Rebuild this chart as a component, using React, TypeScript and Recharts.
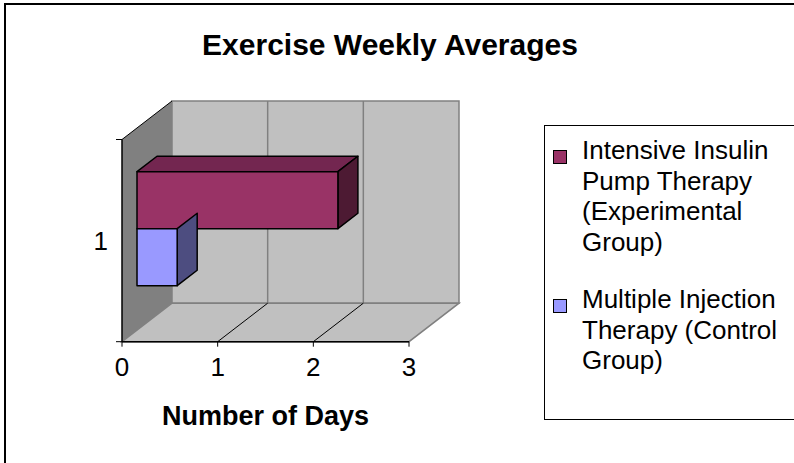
import React from "react";
import { BarChart, Bar, XAxis, YAxis, CartesianGrid, Legend } from "recharts";

// values
const categories = ["1"];
const pumpTherapy = [2.1];
const injectionTherapy = [0.42];
const seriesNames = [
  "Intensive Insulin Pump Therapy (Experimental Group)",
  "Multiple Injection Therapy (Control Group)",
];
const dayTicks = [0, 1, 2, 3];

const data = categories.map((c, i) => ({
  name: c,
  pump: pumpTherapy[i],
  injection: injectionTherapy[i],
}));

const FONT = "'Liberation Sans', Arial, sans-serif";

// 3d depth of the plot box
const DX = 50;
const DY = -38.5;
const BAR_FRONT = 0.3;
const BAR_BACK = 0.7;

const renderWalls = (props: any) => {
  const pts: number[] = props.verticalPoints || [];
  const left = props.x ?? pts[0];
  const width = props.width ?? pts[pts.length - 1] - pts[0];
  const top = props.y ?? props.y1;
  const height = props.height ?? props.y2 - props.y1;
  const bottom = top + height;
  const right = left + width;
  const x1 = props.x1;
  const inner = x1 > left + 1 && x1 < right - 1;
  return (
    <g key={`wall-${props.index}`}>
      {props.index === 0 && (
        <g>
          <rect x={left + DX} y={top + DY} width={width} height={height} fill="#c0c0c0" stroke="#808080" strokeWidth={1.5} />
          <polygon
            points={`${left},${top} ${left + DX},${top + DY} ${left + DX},${bottom + DY} ${left},${bottom}`}
            fill="#808080"
          />
          <polygon
            points={`${left},${bottom} ${left + DX},${bottom + DY} ${right + DX},${bottom + DY} ${right},${bottom}`}
            fill="#c0c0c0"
            stroke="#808080"
            strokeWidth={1.5}
          />
          <line x1={left} y1={top} x2={left + DX} y2={top + DY} stroke="#000" strokeWidth={1} />
          <line x1={left - 6} y1={top} x2={left} y2={top} stroke="#000" />
          <line x1={left - 6} y1={bottom} x2={left} y2={bottom} stroke="#000" />
        </g>
      )}
      {inner && (
        <g>
          <line x1={x1 + DX} y1={top + DY} x2={x1 + DX} y2={bottom + DY} stroke="#808080" strokeWidth={1.5} />
          <line x1={x1} y1={bottom} x2={x1 + DX} y2={bottom + DY} stroke="#000" strokeWidth={1} />
        </g>
      )}
    </g>
  );
};

const Box3D = (props: any) => {
  const { x, y, width, height, face, topFace, sideFace, showTop } = props;
  if (!width || width <= 0) return null;
  const fx = x + DX * BAR_FRONT;
  const fy = y + DY * BAR_FRONT;
  const bx = x + DX * BAR_BACK;
  const by = y + DY * BAR_BACK;
  const ddx = bx - fx;
  const ddy = by - fy;
  return (
    <g stroke="#000" strokeWidth={1.5} strokeLinejoin="round">
      {showTop && (
        <polygon
          points={`${fx},${fy} ${fx + width},${fy} ${bx + width},${by} ${bx},${by}`}
          fill={topFace}
        />
      )}
      <polygon
        points={`${fx + width},${fy} ${fx + width + ddx},${fy + ddy} ${fx + width + ddx},${fy + ddy + height} ${fx + width},${fy + height}`}
        fill={sideFace}
      />
      <rect x={fx} y={fy} width={width} height={height} fill={face} />
    </g>
  );
};

const LegendBox = (props: any) => {
  const items = props.payload || [];
  return (
    <div
      style={{
        boxSizing: "border-box",
        width: 300,
        height: 295,
        border: "1px solid #000",
        padding: "9px 0 0 8px",
        fontFamily: FONT,
        fontSize: 26,
        lineHeight: "30.5px",
        color: "#000",
      }}
    >
      {items.map((it: any, i: number) => (
        <div key={i} style={{ display: "flex", alignItems: "flex-start", marginBottom: 27 }}>
          <div
            style={{
              width: 12,
              height: 12,
              marginTop: 15,
              marginRight: 15,
              border: "1px solid #000",
              background: it.color,
              flex: "none",
            }}
          />
          <div style={{ width: 212 }}>{it.value}</div>
        </div>
      ))}
    </div>
  );
};

export default function App() {
  return (
    <div
      style={{
        position: "absolute",
        left: 0,
        top: 0,
        width: 794,
        height: 463,
        overflow: "hidden",
        background: "#fff",
        fontFamily: FONT,
      }}
    >
      <div
        style={{
          position: "absolute",
          left: 4,
          top: 3,
          width: 900,
          height: 600,
          border: "2px solid #000",
        }}
      />
      <div
        style={{
          position: "absolute",
          left: 0,
          top: 30,
          width: 780,
          textAlign: "center",
          fontSize: 30,
          lineHeight: "30px",
          fontWeight: "bold",
          color: "#000",
        }}
      >
        Exercise Weekly Averages
      </div>
      <div style={{ position: "absolute", left: 0, top: 0 }}>
        <BarChart
          width={794}
          height={463}
          data={data}
          layout="vertical"
          margin={{ top: 139.5, right: 385, bottom: 0, left: 0 }}
          barCategoryGap="21.6%"
          barGap={0}
        >
          <CartesianGrid horizontal={false} vertical={renderWalls} />
          <XAxis
            type="number"
            domain={[0, 3]}
            ticks={dayTicks}
            height={121.3}
            axisLine={{ stroke: "#000", strokeWidth: 1.5 }}
            tickLine={{ stroke: "#000" }}
            tickSize={5}
            tickMargin={11}
            tick={{ fill: "#000", fontSize: 26, fontFamily: FONT }}
            label={{
              value: "Number of Days",
              position: "insideBottom",
              offset: 38,
              fontSize: 27,
              fontWeight: "bold",
              fill: "#000",
              fontFamily: FONT,
            }}
          />
          <YAxis
            type="category"
            dataKey="name"
            width={122}
            axisLine={{ stroke: "#000", strokeWidth: 1.5 }}
            tickLine={false}
            tickMargin={8}
            tick={{ fill: "#000", fontSize: 26, fontFamily: FONT }}
          />
          <Legend
            layout="horizontal"
            align="center"
            verticalAlign="middle"
            wrapperStyle={{ left: 544, top: 125, width: 300, height: 295 }}
            content={LegendBox}
          />
          <Bar
            dataKey="pump"
            name={seriesNames[0]}
            fill="#993366"
            isAnimationActive={false}
            shape={(p: any) => (
              <Box3D {...p} face="#993366" topFace="#732650" sideFace="#4d1a33" showTop />
            )}
          />
          <Bar
            dataKey="injection"
            name={seriesNames[1]}
            fill="#9999ff"
            isAnimationActive={false}
            shape={(p: any) => (
              <Box3D {...p} face="#9999ff" topFace="#7373bf" sideFace="#4d4d80" showTop={false} />
            )}
          />
        </BarChart>
      </div>
    </div>
  );
}
